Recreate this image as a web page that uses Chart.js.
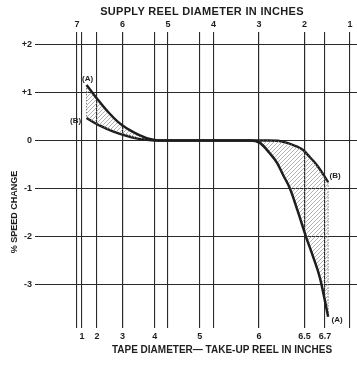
<!DOCTYPE html>
<html><head><meta charset="utf-8">
<script src="https://cdn.jsdelivr.net/npm/chart.js@4/dist/chart.umd.min.js"></script>
<style>html,body{margin:0;padding:0;background:#fff}#wrap{width:357px;height:367px;position:relative}</style>
</head><body><div id="wrap"><canvas id="c"></canvas></div>
<script>
// Supply reel diameter (inches) — top axis, the x value of every point
const supplyTicks = [7, 6, 5, 4, 3, 2, 1];
// Take-up reel (tape) diameter labels and the supply diameter at which each is reached
const takeupTicks = [1, 2, 3, 4, 5, 6, 6.5, 6.7];
const takeupAtSupply = [6.89, 6.56, 6.0, 5.29, 4.30, 3.0, 2.0, 1.55];
// % speed change ticks
const speedTicks = [2, 1, 0, -1, -2, -3];

// Curve (A)
const curveA_supply = [6.79, 6.54, 6.32, 6.10, 5.90, 5.73, 5.55, 5.40, 5.22, 4.5, 3.6, 3.20, 2.98, 2.76, 2.60, 2.47, 2.32, 2.15, 1.97, 1.81, 1.66, 1.48];
const curveA_speed  = [1.16, 0.85, 0.60, 0.39, 0.25, 0.16, 0.08, 0.03, 0.0, 0.0, 0.0, 0.0, -0.05, -0.27, -0.47, -0.72, -1.0, -1.47, -2.0, -2.43, -2.87, -3.68];
// Curve (B)
const curveB_supply = [6.79, 6.60, 6.38, 6.15, 5.95, 5.72, 5.51, 5.29, 4.5, 3.6, 2.8, 2.55, 2.38, 2.21, 2.03, 1.88, 1.73, 1.62, 1.48];
const curveB_speed  = [0.47, 0.36, 0.26, 0.17, 0.11, 0.05, 0.02, 0.0, 0.0, 0.0, 0.0, -0.01, -0.05, -0.11, -0.2, -0.35, -0.51, -0.66, -0.87];

const pts = (xs, ys) => xs.map((x, i) => ({x, y: ys[i]}));

function hatch() {
  const c = document.createElement('canvas');
  c.width = 4; c.height = 4;
  const g = c.getContext('2d');
  g.strokeStyle = '#909090'; g.lineWidth = 0.7;
  g.beginPath();
  g.moveTo(0, 4); g.lineTo(4, 0);
  g.moveTo(-1, 1); g.lineTo(1, -1);
  g.moveTo(3, 5); g.lineTo(5, 3);
  g.stroke();
  return g.createPattern(c, 'repeat');
}

const INK = '#1e1e1e';
const tickFont = {family: '"Liberation Sans", Arial, sans-serif', size: 9, weight: 'bold'};

const labelsPlugin = {
  id: 'labels',
  afterDraw(chart) {
    const {ctx} = chart;
    const x = chart.scales.x, y = chart.scales.y;
    ctx.save();
    ctx.fillStyle = INK;
    ctx.textAlign = 'center';
    ctx.textBaseline = 'middle';
    ctx.font = 'bold 11px "Liberation Sans", Arial, sans-serif';
    ctx.letterSpacing = '0.3px';
    ctx.fillText('SUPPLY REEL DIAMETER IN INCHES', 202, 12);
    ctx.letterSpacing = '0px';
    ctx.font = 'bold 10px "Liberation Sans", Arial, sans-serif';
    ctx.fillText('TAPE DIAMETER\u2014 TAKE-UP REEL IN INCHES', 222, 350);
    ctx.save();
    ctx.translate(15, 212);
    ctx.rotate(-Math.PI / 2);
    ctx.font = 'bold 9px "Liberation Sans", Arial, sans-serif';
    ctx.fillText('% SPEED CHANGE', 0, 0);
    ctx.restore();
    ctx.font = 'bold 8px "Liberation Sans", Arial, sans-serif';
    const aS = x.getPixelForValue(curveA_supply[0]), aSy = y.getPixelForValue(curveA_speed[0]);
    const bS = x.getPixelForValue(curveB_supply[0]), bSy = y.getPixelForValue(curveB_speed[0]);
    const aE = x.getPixelForValue(curveA_supply.at(-1)), aEy = y.getPixelForValue(curveA_speed.at(-1));
    const bE = x.getPixelForValue(curveB_supply.at(-1)), bEy = y.getPixelForValue(curveB_speed.at(-1));
    ctx.fillText('(A)', aS + 1, aSy - 6);
    ctx.fillText('(B)', bS - 11, bSy + 3);
    ctx.fillText('(B)', bE + 7, bEy - 6);
    ctx.fillText('(A)', aE + 9, aEy + 3);
    ctx.restore();
  }
};

new Chart(document.getElementById('c'), {
  type: 'line',
  data: {
    datasets: [
      {data: pts(curveA_supply, curveA_speed), borderColor: INK, borderWidth: 2.5, pointRadius: 0,
       cubicInterpolationMode: 'monotone', fill: {target: '+1'}, backgroundColor: hatch()},
      {data: pts(curveB_supply, curveB_speed), borderColor: INK, borderWidth: 2.5, pointRadius: 0,
       cubicInterpolationMode: 'monotone', fill: false},
      {data: [{x: curveA_supply[0], y: curveA_speed[0]}, {x: curveB_supply[0], y: curveB_speed[0]}],
       borderColor: '#555', borderWidth: 0.8, borderDash: [1.5, 1.5], pointRadius: 0, fill: false},
      {data: [{x: curveB_supply.at(-1), y: curveB_speed.at(-1)}, {x: curveA_supply.at(-1), y: curveA_speed.at(-1)}],
       borderColor: '#555', borderWidth: 0.8, borderDash: [1.5, 1.5], pointRadius: 0, fill: false}
    ]
  },
  options: {
    responsive: true, maintainAspectRatio: false, animation: false,
    layout: {padding: 0},
    plugins: {legend: {display: false}, tooltip: {enabled: false}},
    scales: {
      x: {
        type: 'linear', position: 'bottom', reverse: true, min: 0.846, max: 7.923,
        afterBuildTicks: s => { s.ticks = takeupAtSupply.map(v => ({value: v})); },
        afterFit: s => { s.height = 39; },
        ticks: {callback: (v, i) => String(takeupTicks[i]), color: INK, font: tickFont, padding: 3, maxRotation: 0, autoSkip: false},
        grid: {color: '#2a2a2a', lineWidth: 1.1, drawTicks: false},
        border: {display: false}
      },
      x2: {
        type: 'linear', position: 'top', reverse: true, min: 0.846, max: 7.923,
        afterBuildTicks: s => { s.ticks = supplyTicks.map(v => ({value: v})); },
        afterFit: s => { s.height = 32; },
        ticks: {callback: v => String(v), color: INK, font: tickFont, padding: 2, maxRotation: 0, autoSkip: false},
        grid: {color: '#2a2a2a', lineWidth: 1.1, drawTicks: false},
        border: {display: false}
      },
      y: {
        type: 'linear', min: -3.914, max: 2.265,
        afterBuildTicks: s => { s.ticks = speedTicks.map(v => ({value: v})); },
        afterFit: s => { s.width = 35; },
        ticks: {callback: v => v > 0 ? '+' + v : String(v), color: INK, font: tickFont, padding: 3},
        grid: {color: '#2a2a2a', lineWidth: 1.1, drawTicks: false},
        border: {display: false}
      }
    }
  },
  plugins: [labelsPlugin]
});
</script>
</body></html>
